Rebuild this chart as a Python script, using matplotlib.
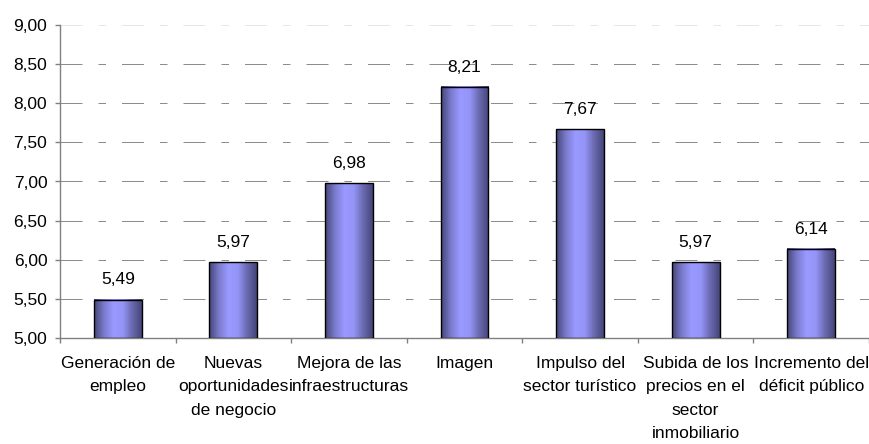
import matplotlib

matplotlib.use("Agg")
import matplotlib.pyplot as plt
import numpy as np
from matplotlib.colors import LinearSegmentedColormap
from matplotlib.transforms import ScaledTranslation

plt.rcParams["font.family"] = ["Liberation Sans", "DejaVu Sans"]
plt.rcParams["lines.scale_dashes"] = False

CATEGORIES = [
    "Generación de\nempleo",
    "Nuevas\noportunidades\nde negocio",
    "Mejora de las\ninfraestructuras",
    "Imagen",
    "Impulso del\nsector turístico",
    "Subida de los\nprecios en el\nsector\ninmobiliario",
    "Incremento del\ndéficit público",
]
VALUES = [5.49, 5.97, 6.98, 8.21, 7.67, 5.97, 6.14]
Y_TICKS = [5.0, 5.5, 6.0, 6.5, 7.0, 7.5, 8.0, 8.5, 9.0]

TEXT = "#000000"
AXIS = "#808080"
GRID = "#8c8c8c"
EDGE = "#000000"
FONT = 12.5
BAR_CMAP = LinearSegmentedColormap.from_list(
    "cyl", ["#46467a", "#7a7acc", "#9999ff", "#9595f8", "#6a6ab0", "#46467a"]
)

PX = 72 / 100  # one pixel in points


def fmt(v):
    return f"{v:.2f}".replace(".", ",")


fig = plt.figure(figsize=(8.7, 4.44), dpi=100)
ax = fig.add_axes([60 / 870, 106 / 444, 809 / 870, 313 / 444])

# dashed grid: long - gap - short - gap
for y in Y_TICKS[1:]:
    color = "#e6e6e6" if y == Y_TICKS[-1] else GRID
    ax.axhline(y, color=color, linewidth=PX, zorder=0,
               dashes=(22 * PX, 16 * PX, 7.5 * PX, 16 * PX))

width = 0.415
grad = BAR_CMAP(np.linspace(0, 1, 64))[None, :, :]
for i, v in enumerate(VALUES):
    x0 = i + 0.5 - width / 2
    ax.imshow(grad, extent=(x0, x0 + width, 5, v), aspect="auto", zorder=2,
              interpolation="bilinear")
    ax.bar(i + 0.5, v - 5, bottom=5, width=width, facecolor="none",
           edgecolor=EDGE, linewidth=1.0, zorder=3)
    ax.annotate(fmt(v), (i + 0.5, v), xytext=(0, 11), textcoords="offset points",
                ha="center", va="baseline", fontsize=FONT, color=TEXT)

ax.set_xlim(0, len(VALUES))
ax.set_ylim(5, 9)

for side in ["top", "right"]:
    ax.spines[side].set_visible(False)
for side in ["left", "bottom"]:
    ax.spines[side].set_color(AXIS)
    ax.spines[side].set_linewidth(1.0)

ax.set_yticks(Y_TICKS)
ax.set_yticklabels([fmt(t) for t in Y_TICKS])
ax.tick_params(axis="y", length=3.6, width=1, color=AXIS, labelsize=FONT,
               labelcolor=TEXT, pad=5.5)

ax.set_xticks(range(len(VALUES) + 1))
ax.set_xticklabels([])
ax.tick_params(axis="x", length=3.6, width=1, color=AXIS)

label_shift = ax.transData + ScaledTranslation(0, -18 / 100, fig.dpi_scale_trans)
for i, label in enumerate(CATEGORIES):
    ax.text(i + 0.5, 5, label, transform=label_shift, ha="center", va="top",
            fontsize=FONT, color=TEXT, linespacing=1.7)

fig.savefig("out.png", dpi=100, facecolor="white")
